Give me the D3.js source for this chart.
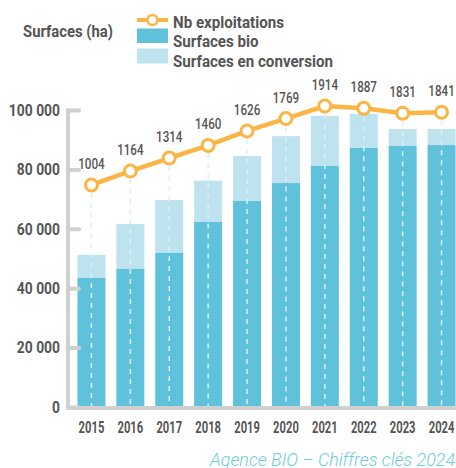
<!DOCTYPE html>
<html>
<head>
<meta charset="utf-8">
<script src="https://cdn.jsdelivr.net/npm/d3@7"></script>
<style>
    html, body { margin: 0; padding: 0; background: #fff; }
    svg text { font-family: Roboto, "Noto Sans", sans-serif; }
</style>
</head>
<body>
<svg id="chart"></svg>
<script>
const W = 456, H = 468;

const years       = ['2015', '2016', '2017', '2018', '2019', '2020', '2021', '2022', '2023', '2024'];
const surfBio     = [43500, 46500, 51900, 62300, 69400, 75400, 81200, 87200, 87900, 88200];
const surfTotal   = [51200, 61600, 69700, 76200, 84500, 91200, 98000, 98700, 93600, 93600];
const nbExploit   = [1004, 1164, 1314, 1460, 1626, 1769, 1914, 1887, 1831, 1841];
const yTicks      = [0, 20000, 40000, 60000, 80000, 100000];
const legendLabels = ['Nb exploitations', 'Surfaces bio', 'Surfaces en conversion'];

const BIO_COLOR  = '#5fc2da';
const CONV_COLOR = '#bfe3ee';
const LINE_COLOR = '#fbb545';
const AXIS_COLOR = '#d0d0d0';
const TEXT_COLOR = '#555555';

const svg = d3.select('#chart')
    .attr('width', W)
    .attr('height', H);

// no condensed font installed: squeeze the glyphs horizontally
function squeeze(sel, k) {
    sel.each(function () {
        const w = this.getComputedTextLength();
        d3.select(this)
            .attr('textLength', w * k)
            .attr('lengthAdjust', 'spacingAndGlyphs');
    });
}
function fitWidth(sel, width) {
    sel.attr('textLength', width).attr('lengthAdjust', 'spacingAndGlyphs');
}

const x = d3.scaleBand()
    .domain(years)
    .range([72, 461])
    .paddingInner(0.28)
    .paddingOuter(0.14);

const y = d3.scaleLinear()
    .domain([0, 100000])
    .range([407, 110]);

// secondary scale for the number of farms (no axis drawn)
const y2 = d3.scaleLinear()
    .domain([1000, 1900])
    .range([185.3, 107.2]);

const rows = years.map((yr, i) => ({
    year: yr, bio: surfBio[i], total: surfTotal[i], nb: nbExploit[i]
}));

const cx = d => x(d.year) + x.bandwidth() / 2;

// ── Bars ──
svg.append('g')
    .selectAll('rect')
    .data(rows)
    .join('rect')
    .attr('x', d => x(d.year))
    .attr('width', x.bandwidth())
    .attr('y', d => y(d.total))
    .attr('height', d => y(d.bio) - y(d.total))
    .attr('fill', CONV_COLOR);

svg.append('g')
    .selectAll('rect')
    .data(rows)
    .join('rect')
    .attr('x', d => x(d.year))
    .attr('width', x.bandwidth())
    .attr('y', d => y(d.bio))
    .attr('height', d => y(0) - y(d.bio))
    .attr('fill', BIO_COLOR);

// dashed drop lines from the points
svg.append('g')
    .selectAll('line')
    .data(rows)
    .join('line')
    .attr('x1', cx)
    .attr('x2', cx)
    .attr('y1', d => y2(d.nb) + 8)
    .attr('y2', y(0))
    .attr('stroke', '#d8eff6')
    .attr('stroke-width', 1.5)
    .attr('stroke-dasharray', '5,5');

// ── Axes ──
const fr = d3.formatLocale({ decimal: ',', thousands: ' ', grouping: [3], currency: ['', ' €'] });

const yAxis = svg.append('g')
    .attr('transform', 'translate(68,0)')
    .call(d3.axisLeft(y).tickValues(yTicks).tickSize(-11).tickPadding(8).tickFormat(fr.format(',')));
yAxis.select('.domain').remove();
yAxis.selectAll('.tick line')
    .attr('stroke', AXIS_COLOR)
    .attr('stroke-width', 4)
    .attr('stroke-linecap', 'round');
yAxis.selectAll('.tick text')
    .attr('fill', TEXT_COLOR)
    .attr('font-size', 16.5)
    .attr('font-weight', 'bold')
    .call(squeeze, 0.84);

svg.append('line')
    .attr('x1', 68).attr('x2', 68)
    .attr('y1', y(100000)).attr('y2', y(0) + 1)
    .attr('stroke', AXIS_COLOR)
    .attr('stroke-width', 4)
    .attr('stroke-linecap', 'round');
svg.append('line')
    .attr('x1', 68).attr('x2', W)
    .attr('y1', y(0) + 1).attr('y2', y(0) + 1)
    .attr('stroke', AXIS_COLOR)
    .attr('stroke-width', 4)
    .attr('stroke-linecap', 'round');

const xAxis = svg.append('g')
    .attr('transform', `translate(0,${y(0) + 1})`)
    .call(d3.axisBottom(x).tickSize(0).tickPadding(14));
xAxis.select('.domain').remove();
xAxis.selectAll('.tick text')
    .attr('fill', TEXT_COLOR)
    .attr('font-size', 16)
    .attr('font-weight', 'bold')
    .call(squeeze, 0.7);

// ── Line: Nb exploitations ──
const line = d3.line()
    .x(cx)
    .y(d => y2(d.nb));

svg.append('path')
    .datum(rows)
    .attr('d', line)
    .attr('fill', 'none')
    .attr('stroke', LINE_COLOR)
    .attr('stroke-width', 4.5);

svg.append('g')
    .selectAll('circle')
    .data(rows)
    .join('circle')
    .attr('cx', cx)
    .attr('cy', d => y2(d.nb))
    .attr('r', 6)
    .attr('fill', '#fff')
    .attr('stroke', LINE_COLOR)
    .attr('stroke-width', 3);

svg.append('g')
    .selectAll('text')
    .data(rows)
    .join('text')
    .attr('x', cx)
    .attr('y', d => y2(d.nb) - 16)
    .attr('text-anchor', 'middle')
    .attr('fill', TEXT_COLOR)
    .attr('font-size', 15.5)
    .attr('font-weight', 500)
    .text(d => d.nb)
    .call(squeeze, 0.75);

// ── Title & legend ──
svg.append('text')
    .attr('x', 23).attr('y', 37)
    .attr('fill', TEXT_COLOR)
    .attr('font-size', 17)
    .attr('font-weight', 'bold')
    .text('Surfaces (ha)')
    .call(fitWidth, 90);

const legend = svg.append('g');
legend.append('line')
    .attr('x1', 137).attr('x2', 168)
    .attr('y1', 20).attr('y2', 20)
    .attr('stroke', LINE_COLOR)
    .attr('stroke-width', 4);
legend.append('circle')
    .attr('cx', 152.5).attr('cy', 20).attr('r', 5)
    .attr('fill', '#fff')
    .attr('stroke', LINE_COLOR)
    .attr('stroke-width', 2.5);
legend.append('rect')
    .attr('x', 137).attr('y', 28.5).attr('width', 31).attr('height', 14.5)
    .attr('fill', BIO_COLOR);
legend.append('rect')
    .attr('x', 137).attr('y', 48.5).attr('width', 31).attr('height', 15)
    .attr('fill', CONV_COLOR);

legend.selectAll('text')
    .data(legendLabels)
    .join('text')
    .attr('x', 173)
    .attr('y', (d, i) => 28 + i * 19.3)
    .attr('fill', TEXT_COLOR)
    .attr('font-size', 17)
    .attr('font-weight', 'bold')
    .text(d => d)
    .call(squeeze, 0.89);

// ── Source ──
svg.append('text')
    .attr('x', 455).attr('y', 466)
    .attr('text-anchor', 'end')
    .attr('fill', '#6fcbe0')
    .attr('font-size', 17.5)
    .attr('font-style', 'italic')
    .attr('font-weight', 300)
    .text('Agence BIO – Chiffres clés 2024')
    .call(fitWidth, 245);
</script>
</body>
</html>
